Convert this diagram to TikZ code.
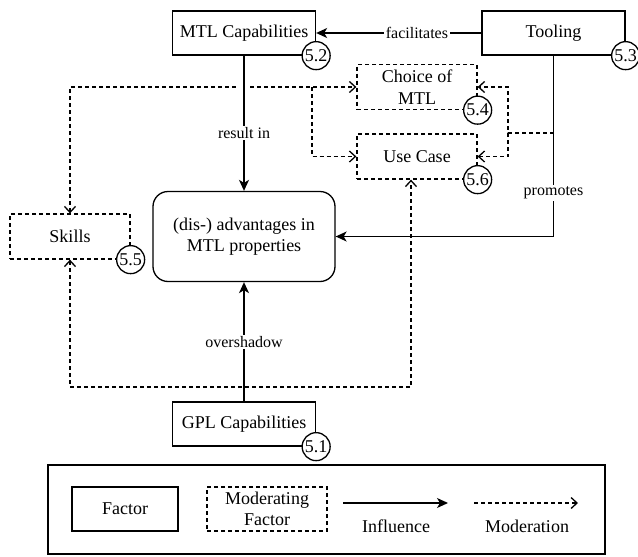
\documentclass[tikz,border=0pt]{standalone}
\usepackage{fontspec}
\setmainfont{Liberation Serif}
\newfontfamily\diagfont{Liberation Serif}
\usetikzlibrary{arrows.meta,positioning}

\begin{document}
\begin{tikzpicture}[x=1pt,y=-1pt,>={Stealth[length=11pt,width=10pt,inset=3pt]},
  line width=1.3pt,font=\diagfont\fontsize{18}{21.5}\selectfont,
  factor node/.style={draw,minimum width=143pt,minimum height=44pt,inner sep=0pt},
  moderator node/.style={factor node,dash pattern=on 4pt off 3pt,minimum width=120pt,minimum height=45pt},
  badge/.style={circle,draw,fill=white,minimum size=28pt,inner sep=0pt},
  influence/.style={->},
  moderation/.style={dash pattern=on 4pt off 3pt,>={Straight Barb[length=6pt,width=11pt]}},
  edge label/.style={fill=white,inner sep=1.5pt,font=\diagfont\fontsize{16}{19}\selectfont}]

  \useasboundingbox (0,0) rectangle (638,557);

  % factors
  \node[factor node] (mtl) at (244,33) {MTL Capabilities};
  \node[factor node] (tool) at (553.5,33) {Tooling};
  \node[factor node] (gpl) at (244,424) {GPL Capabilities};
  \node[draw,rounded corners=15pt,minimum width=182pt,minimum height=90pt,align=center] (adv) at (244,236.5) {(dis-) advantages in\\MTL properties};

  % moderating factors
  \node[moderator node,align=center] (choice) at (417,87) {Choice of\\MTL};
  \node[moderator node] (usecase) at (417,156.5) {Use Case};
  \node[moderator node] (skills) at (70,236.5) {Skills};

  % influences
  \draw[influence] (tool.west) -- node[edge label,pos=0.39] {facilitates} (mtl.east);
  \draw[influence] (mtl.south) -- node[edge label,pos=0.57] {result in} (adv.north);
  \draw[influence] (tool.south) |- node[edge label,pos=0.38] {promotes} (adv.east);
  \draw[influence] (gpl.north) -- node[edge label] {overshadow} (adv.south);

  % moderations
  \coordinate (jumpL) at (238,87);
  \coordinate (jumpR) at (250,87);
  \coordinate (split) at (312,87);
  \coordinate (tap) at (553.5,133);
  \coordinate (fork) at (508,133);
  \coordinate (base) at (411,387);
  \draw[moderation,<-] (skills.north) |- (jumpL);
  \draw[moderation,->] (jumpR) -- (choice.west);
  \draw[moderation,->] (split) |- (usecase.west);
  \draw[moderation,->] (tap) -- (fork) |- (choice.east);
  \draw[moderation,->] (fork) |- (usecase.east);
  \draw[moderation,<->] (skills.south) |- (base) -- (base |- usecase.south);

  % section badges
  \node[badge] (b51) at (gpl.south east) {5.1};
  \node[badge] (b52) at (mtl.south east) {5.2};
  \node[badge] (b53) at (tool.south east) {5.3};
  \node[badge] (b54) at (choice.south east) {5.4};
  \node[badge] (b55) at (skills.south east) {5.5};
  \node[badge] (b56) at (usecase.south east) {5.6};

  % legend
  \node[draw,minimum width=557pt,minimum height=89pt] (legend) at (326.5,509.5) {};
  \node[factor node,minimum width=106pt] (keyfactor) at (125,509) {Factor};
  \node[moderator node,minimum height=44pt,align=center] (keymod) at (267,509) {Moderating\\Factor};
  \coordinate (inflA) at (343,503);
  \coordinate (inflB) at (448,503);
  \coordinate (modA) at (474,503);
  \coordinate (modB) at (578,503);
  \draw[influence] (inflA) -- (inflB);
  \draw[moderation,->] (modA) -- (modB);
  \node (keyinfl) at (396,526) {Influence};
  \node (keymodr) at (527,526) {Moderation};
\end{tikzpicture}
\end{document}
